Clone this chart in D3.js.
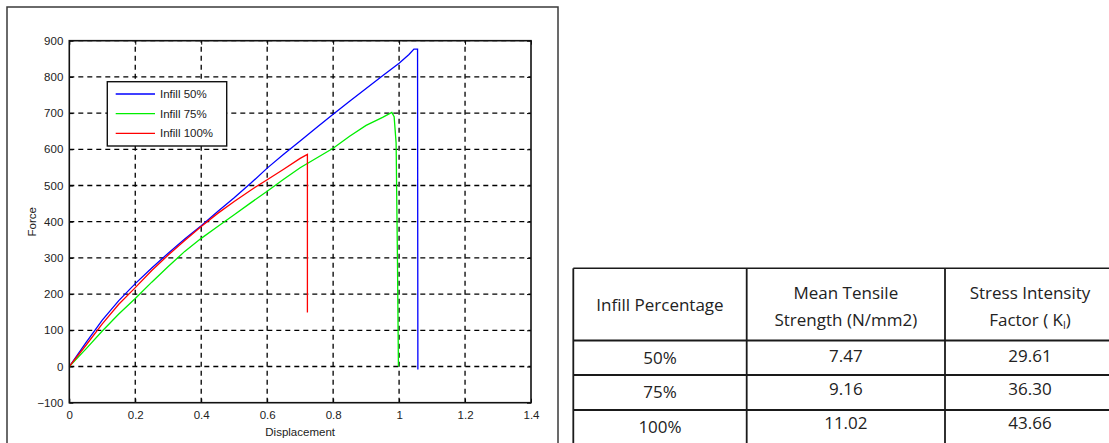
<!DOCTYPE html>
<html>
<head>
<meta charset="utf-8">
<script src="https://cdn.jsdelivr.net/npm/d3@7/dist/d3.min.js"></script>
<style>
  html, body { margin: 0; padding: 0; background: #fff; }
  svg { display: block; }
</style>
</head>
<body>
<svg id="fig" width="1109" height="443"></svg>
<script>
// Force–displacement curves, [displacement, force]
const infill50 = [
  [0, 0], [0.05, 65], [0.1, 128], [0.15, 182], [0.2, 229], [0.25, 272],
  [0.3, 313], [0.35, 352], [0.4, 389], [0.45, 428], [0.5, 466], [0.55, 506],
  [0.6, 548], [0.65, 586], [0.7, 623], [0.75, 660], [0.8, 697], [0.85, 733],
  [0.9, 768], [0.95, 803], [1.0, 838], [1.03, 862], [1.045, 877], [1.056, 877],
  [1.057, -8]
];
const infill75 = [
  [0, 0], [0.05, 48], [0.1, 98], [0.15, 145], [0.2, 188], [0.25, 233],
  [0.3, 276], [0.35, 318], [0.4, 354], [0.45, 387], [0.5, 419], [0.55, 452],
  [0.6, 484], [0.65, 517], [0.7, 549], [0.75, 576], [0.8, 603], [0.85, 636],
  [0.9, 666], [0.95, 688], [0.978, 702], [0.985, 690], [0.991, 617],
  [0.995, 300], [0.998, 0]
];
const infill100 = [
  [0, 0], [0.05, 58], [0.1, 118], [0.15, 172], [0.2, 218], [0.25, 265],
  [0.3, 308], [0.35, 348], [0.4, 387], [0.45, 423], [0.5, 456], [0.55, 487],
  [0.6, 516], [0.65, 545], [0.7, 575], [0.722, 586], [0.722, 149]
];
const seriesNames = ["Infill 50%", "Infill 75%", "Infill 100%"];
const seriesColors = ["#0000ff", "#00ee00", "#ff0000"];

const xTicks = [0, 0.2, 0.4, 0.6, 0.8, 1, 1.2, 1.4];
const yTicks = [-100, 0, 100, 200, 300, 400, 500, 600, 700, 800, 900];

// Results table
const tableHeader = [["Infill Percentage"], ["Mean Tensile", "Strength (N/mm2)"], ["Stress Intensity", "Factor ( K", ")"]];
const infillPct = ["50%", "75%", "100%"];
const tensileStrength = ["7.47", "9.16", "11.02"];
const stressIntensity = ["29.61", "36.30", "43.66"];

const svg = d3.select("#fig");
svg.append("rect").attr("width", 1109).attr("height", 443).attr("fill", "#fff");

// Figure frame
svg.append("rect")
  .attr("x", 7).attr("y", 7).attr("width", 551).attr("height", 460)
  .attr("fill", "none").attr("stroke", "#3a3a3a").attr("stroke-width", 1.5);

const plot = { left: 69.3, right: 531, top: 40.7, bottom: 402.7 };
const x = d3.scaleLinear().domain([0, 1.4]).range([plot.left, plot.right]);
const y = d3.scaleLinear().domain([-100, 900]).range([plot.bottom, plot.top]);

const font = "'Liberation Sans', Arial, sans-serif";

// Dashed grid
const grid = svg.append("g").attr("stroke", "#000").attr("stroke-width", 1.3)
  .attr("stroke-dasharray", "5,4");
grid.selectAll("line.gx").data(xTicks.slice(1, -1)).join("line")
  .attr("x1", d => x(d)).attr("x2", d => x(d))
  .attr("y1", plot.bottom).attr("y2", plot.top);
grid.selectAll("line.gy").data(yTicks.slice(1)).join("line")
  .attr("y1", d => y(d)).attr("y2", d => y(d))
  .attr("x1", plot.left).attr("x2", plot.right);

// Axes with inward ticks on all four sides
const axisStyle = g => {
  g.select(".domain").remove();
  g.selectAll(".tick line").attr("stroke", "#000").attr("stroke-width", 1);
  g.selectAll(".tick text").attr("font-family", font).attr("font-size", 11.5).attr("fill", "#222");
};
svg.append("g").attr("transform", `translate(0,${plot.bottom})`)
  .call(d3.axisBottom(x).tickValues(xTicks).tickFormat(d3.format("")).tickSizeInner(-4).tickPadding(8))
  .call(axisStyle);
svg.append("g").attr("transform", `translate(${plot.left},0)`)
  .call(d3.axisLeft(y).tickValues(yTicks).tickSizeInner(-4).tickPadding(6))
  .call(axisStyle);
svg.append("g").attr("transform", `translate(0,${plot.top})`)
  .call(d3.axisTop(x).tickValues(xTicks).tickFormat("").tickSizeInner(-4))
  .call(axisStyle);
svg.append("g").attr("transform", `translate(${plot.right},0)`)
  .call(d3.axisRight(y).tickValues(yTicks).tickFormat("").tickSizeInner(-4))
  .call(axisStyle);

// Curves
const line = d3.line().x(d => x(d[0])).y(d => y(d[1]));
[infill50, infill75, infill100].forEach((s, i) => {
  svg.append("path").datum(s)
    .attr("d", line).attr("fill", "none")
    .attr("stroke", seriesColors[i]).attr("stroke-width", 1.3);
});

// Plot box
svg.append("rect")
  .attr("x", plot.left).attr("y", plot.top)
  .attr("width", plot.right - plot.left).attr("height", plot.bottom - plot.top)
  .attr("fill", "none").attr("stroke", "#111").attr("stroke-width", 1.6);

// Axis titles
svg.append("text").attr("x", (plot.left + plot.right) / 2).attr("y", 436)
  .attr("text-anchor", "middle").attr("font-family", font).attr("font-size", 11.5)
  .attr("fill", "#222").text("Displacement");
svg.append("text").attr("transform", `translate(36,${(plot.top + plot.bottom) / 2}) rotate(-90)`)
  .attr("text-anchor", "middle").attr("font-family", font).attr("font-size", 11.5)
  .attr("fill", "#222").text("Force");

// Legend
const legend = svg.append("g");
legend.append("rect").attr("x", 107.3).attr("y", 81.7).attr("width", 119.4).attr("height", 64.3)
  .attr("fill", "#fff").attr("stroke", "#111").attr("stroke-width", 1.4);
const legendY = d3.scalePoint().domain(seriesNames).range([94, 133.3]);
seriesNames.forEach((name, i) => {
  legend.append("line").attr("x1", 115.7).attr("x2", 155)
    .attr("y1", legendY(name)).attr("y2", legendY(name))
    .attr("stroke", seriesColors[i]).attr("stroke-width", 1.3);
  legend.append("text").attr("x", 160).attr("y", legendY(name) + 4)
    .attr("font-family", font).attr("font-size", 11.5).attr("fill", "#222").text(name);
});

// Table
const tfont = "'Open Sans', 'Noto Sans', sans-serif";
const tsize = 17;
const colEdges = [573.3, 746.7, 945, 1115];
const rowEdges = [268.3, 340.5, 375, 410, 444.5];
const tg = svg.append("g");
const colMid = i => (colEdges[i] + colEdges[i + 1]) / 2;

tg.selectAll("line.h").data(rowEdges).join("line")
  .attr("x1", colEdges[0]).attr("x2", colEdges[3])
  .attr("y1", d => d).attr("y2", d => d)
  .attr("stroke", "#1a1a1a").attr("stroke-width", (d, i) => i === 0 ? 1.5 : 2);
tg.selectAll("line.v").data(colEdges).join("line")
  .attr("x1", d => d).attr("x2", d => d)
  .attr("y1", rowEdges[0]).attr("y2", rowEdges[4])
  .attr("stroke", "#1a1a1a").attr("stroke-width", 1.8);

const ttext = (tx, ty, str) => tg.append("text").attr("x", tx).attr("y", ty)
  .attr("text-anchor", "middle").attr("font-family", tfont).attr("font-size", tsize)
  .attr("fill", "#222").text(str);

ttext(colMid(0), 311, tableHeader[0][0]);
ttext(colMid(1), 299, tableHeader[1][0]);
ttext(colMid(1), 326, tableHeader[1][1]);
ttext(colMid(2), 299, tableHeader[2][0]);
const kText = tg.append("text").attr("x", colMid(2)).attr("y", 326)
  .attr("text-anchor", "middle").attr("font-family", tfont).attr("font-size", tsize).attr("fill", "#222");
kText.append("tspan").text(tableHeader[2][1]);
kText.append("tspan").attr("font-size", 10).attr("dy", 3).text("I");
kText.append("tspan").attr("dy", -3).text(tableHeader[2][2]);

// Baselines of the body rows: first column sits slightly lower than the figures
const pctBase = [364, 397.5, 433];
const valBase = [362, 395, 429];
infillPct.forEach((p, i) => {
  ttext(colMid(0), pctBase[i], p);
  ttext(colMid(1), valBase[i], tensileStrength[i]);
  ttext(colMid(2), valBase[i], stressIntensity[i]);
});
</script>
</body>
</html>
